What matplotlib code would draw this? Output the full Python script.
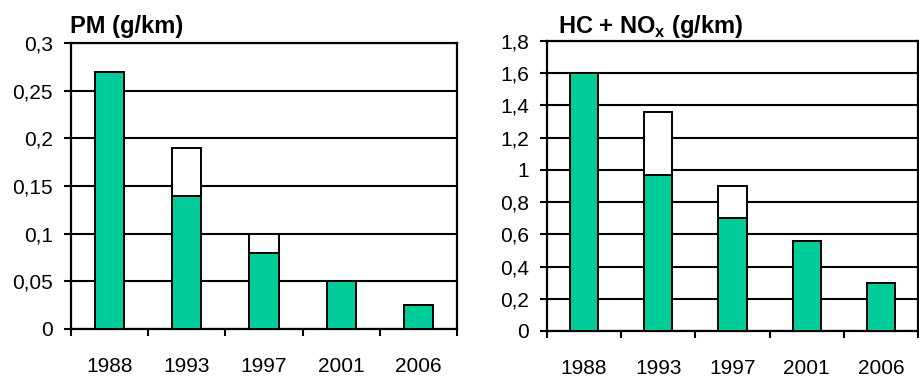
import matplotlib
matplotlib.use("Agg")
import matplotlib.pyplot as plt
from matplotlib.ticker import FixedLocator, FuncFormatter

plt.rcParams['font.family'] = ['Liberation Sans', 'DejaVu Sans']
plt.rcParams['mathtext.fontset'] = 'custom'
plt.rcParams['mathtext.rm'] = 'Liberation Sans'
plt.rcParams['mathtext.bf'] = 'Liberation Sans:bold'

years = ['1988', '1993', '1997', '2001', '2006']

# Particulate matter limits (g/km): filled part and upper bound
pm_low = [0.27, 0.14, 0.08, 0.05, 0.025]
pm_high = [0.27, 0.19, 0.10, 0.05, 0.025]
pm_ticks = [0, 0.05, 0.1, 0.15, 0.2, 0.25, 0.3]

# HC + NOx limits (g/km): filled part and upper bound
hc_low = [1.6, 0.97, 0.70, 0.56, 0.30]
hc_high = [1.6, 1.36, 0.90, 0.56, 0.30]
hc_ticks = [0, 0.2, 0.4, 0.6, 0.8, 1.0, 1.2, 1.4, 1.6, 1.8]

GREEN = '#00CC99'
FS = 15
TITLE_FS = 17


def comma_fmt(v, pos):
    s = ('%g' % round(v, 4))
    return s.replace('.', ',')


def draw_panel(ax, low, high, ticks):
    x = list(range(len(years)))
    top = [h - l for h, l in zip(high, low)]
    ax.bar(x, low, width=0.38, color=GREEN, edgecolor='black', linewidth=1.4, zorder=3)
    ax.bar(x, top, bottom=low, width=0.38, color='white', edgecolor='black',
           linewidth=1.4, zorder=3)
    ax.set_xlim(-0.5, len(years) - 0.5)
    ax.set_ylim(ticks[0], ticks[-1])
    ax.yaxis.set_major_locator(FixedLocator(ticks))
    ax.yaxis.set_major_formatter(FuncFormatter(comma_fmt))
    ax.grid(axis='y', color='black', linewidth=1.5, zorder=1)
    ax.set_axisbelow(True)
    # boundaries between categories get tick marks, centers get labels
    ax.xaxis.set_major_locator(FixedLocator([i - 0.5 for i in range(len(years) + 1)]))
    ax.xaxis.set_major_formatter(FuncFormatter(lambda v, p: ''))
    ax.xaxis.set_minor_locator(FixedLocator(x))
    ax.set_xticklabels(years, minor=True)
    ax.tick_params(axis='x', which='major', length=5, width=1.5, direction='out')
    ax.tick_params(axis='x', which='minor', length=0, pad=20, labelsize=FS)
    ax.tick_params(axis='y', length=5, width=1.5, direction='out', pad=8, labelsize=FS)
    for sp in ax.spines.values():
        sp.set_linewidth(1.6)
        sp.set_color('black')


fig = plt.figure(figsize=(9.19, 3.76), dpi=100)
ax1 = fig.add_axes([71 / 919, 1 - 329 / 376, (457 - 71) / 919, (329 - 43) / 376])
ax2 = fig.add_axes([547 / 919, 1 - 331 / 376, (918 - 547) / 919, (331 - 41) / 376])

draw_panel(ax1, pm_low, pm_high, pm_ticks)
draw_panel(ax2, hc_low, hc_high, hc_ticks)

fig.text(70 / 919, 1 - 27 / 376, 'PM (g/km)', fontsize=TITLE_FS, fontweight='bold',
         ha='left', va='center')
fig.text(558 / 919, 1 - 27 / 376, r'HC + NO$_\mathbf{x}$ (g/km)', fontsize=TITLE_FS,
         fontweight='bold', ha='left', va='center')

fig.savefig('out.png', dpi=100)
